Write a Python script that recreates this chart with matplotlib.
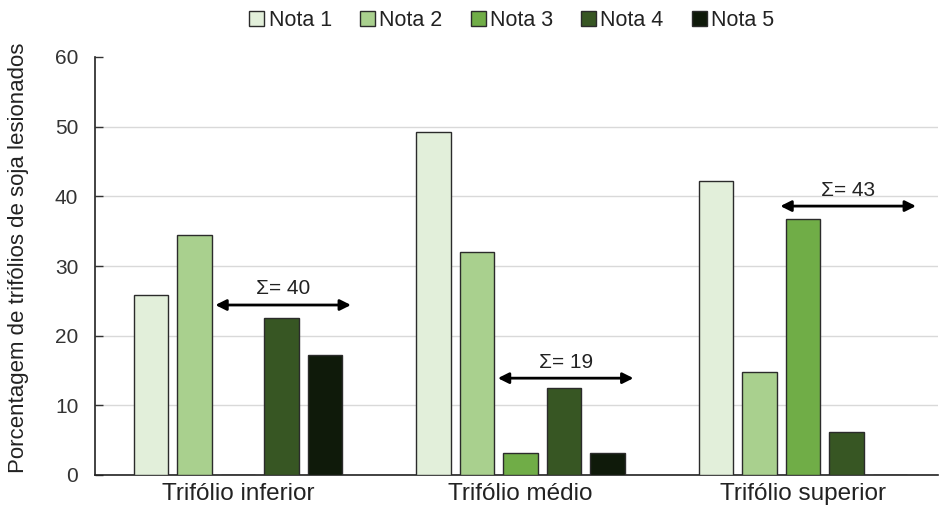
import matplotlib
matplotlib.use("Agg")
import matplotlib.pyplot as plt
import numpy as np

plt.rcParams['font.family'] = ['Liberation Sans', 'DejaVu Sans']

categories = ["Trifólio inferior", "Trifólio médio", "Trifólio superior"]
series_names = ["Nota 1", "Nota 2", "Nota 3", "Nota 4", "Nota 5"]
nota1 = [25.8, 49.2, 42.2]
nota2 = [34.4, 32.0, 14.8]
nota3 = [0.0, 3.2, 36.7]
nota4 = [22.5, 12.5, 6.2]
nota5 = [17.2, 3.2, 0.0]
sum_labels = ["Σ= 40", "Σ= 19", "Σ= 43"]
arrow_levels = [24.4, 13.9, 38.6]

colors = ["#e2efda", "#a9d08e", "#70ad47", "#375623", "#0f1a0a"]
series = [nota1, nota2, nota3, nota4, nota5]

fig = plt.figure(figsize=(9.39, 5.14), dpi=100)
ax = fig.add_axes([95/939, 39/514, 843/939, 418/514])

x = np.arange(len(categories))
step = 0.154
width = 0.122
for i, (vals, c, name) in enumerate(zip(series, colors, series_names)):
    ax.bar(x + (i - 2) * step, vals, width, color=c, edgecolor="#2b2b2b",
           linewidth=1.0, label=name, zorder=3)

for xi, lab, lvl in zip(x, sum_labels, arrow_levels):
    x0 = xi - 0.08
    x1 = xi + 0.40
    ax.annotate("", xy=(x0, lvl), xytext=(x1, lvl),
                arrowprops=dict(arrowstyle="<|-|>", color="black", lw=2.0,
                                mutation_scale=16, shrinkA=0, shrinkB=0),
                zorder=4)
    ax.text((x0 + x1) / 2, lvl + 2.3, lab, ha="center", va="center",
            fontsize=15, color="#222222", zorder=4)

ax.set_xlim(-0.506, 2.478)
ax.set_ylim(0, 60)
ax.set_yticks(range(0, 61, 10))
ax.set_xticks(x)
ax.set_xticklabels(categories, fontsize=17.5, color="#222222")
ax.tick_params(axis='y', labelsize=15, colors="#333333", direction='in', length=6,
               width=1, pad=12)
ax.tick_params(axis='y', labelcolor="#333333")
ax.tick_params(axis='x', length=0, pad=6)
ax.yaxis.grid(True, color="#d9d9d9", linewidth=1.0, zorder=0)
ax.set_axisbelow(True)
gl = ax.yaxis.get_gridlines()
gl[-1].set_visible(False)

for s in ["top", "right"]:
    ax.spines[s].set_visible(False)
ax.spines["left"].set_color("#222222")
ax.spines["bottom"].set_color("#222222")
ax.spines["left"].set_linewidth(1.2)
ax.spines["bottom"].set_linewidth(1.2)

ax.set_ylabel("Porcentagem de trifólios de soja lesionados", fontsize=16,
              color="#222222")
ax.yaxis.set_label_coords(-0.078, 0.52)

leg = fig.legend(loc="upper center", bbox_to_anchor=(0.545, 1.018), ncol=5,
                 frameon=False, fontsize=15.5, handlelength=0.7, handleheight=0.7,
                 handletextpad=0.2, columnspacing=1.3)
for t in leg.get_texts():
    t.set_color("#222222")

fig.savefig("out.png", dpi=100)
